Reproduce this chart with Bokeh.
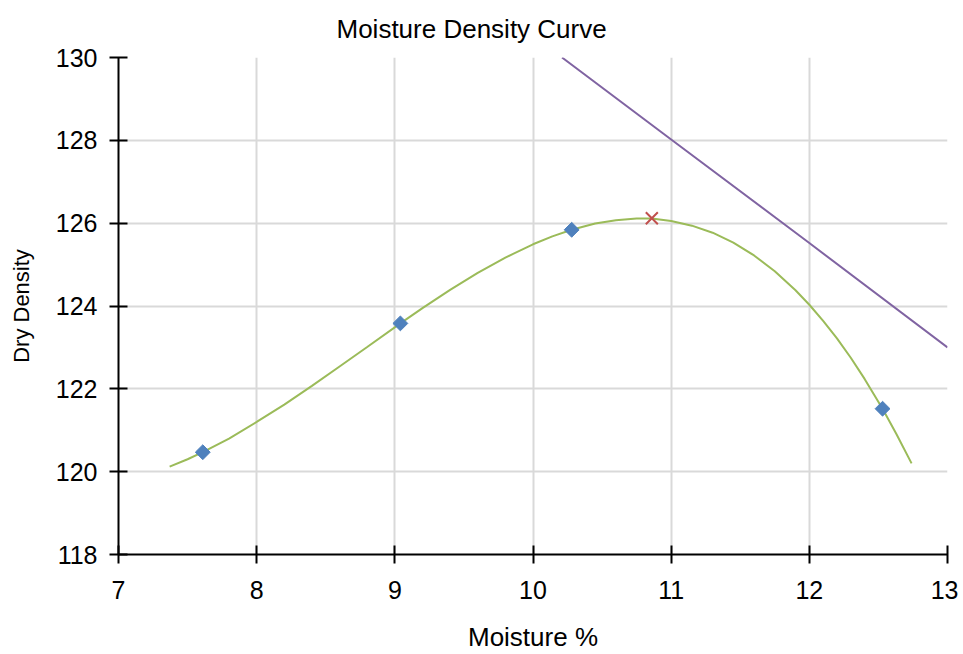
import math
from bokeh.plotting import figure
from bokeh.models import Range1d, FixedTicker
from bokeh.embed import file_html
from bokeh.resources import INLINE

# measured points
moisture = [7.61, 9.04, 10.28, 12.53]
density = [120.47, 123.58, 125.84, 121.52]

# optimum
opt_moisture = [10.86]
opt_density = [126.12]

# fitted curve
curve_x = [7.37, 7.5, 7.61, 7.8, 8.0, 8.2, 8.4, 8.6, 8.8, 9.04, 9.2, 9.4, 9.6, 9.8,
           10.0, 10.14, 10.28, 10.45, 10.6, 10.75, 10.86, 11.0, 11.15, 11.3, 11.45,
           11.6, 11.75, 11.9, 12.0, 12.1, 12.2, 12.3, 12.4, 12.53, 12.63, 12.74]
curve_y = [120.12, 120.30, 120.47, 120.80, 121.20, 121.62, 122.07, 122.54, 123.01,
           123.58, 123.95, 124.39, 124.80, 125.17, 125.49, 125.68, 125.84, 125.99,
           126.07, 126.11, 126.11, 126.05, 125.94, 125.77, 125.53, 125.22, 124.84,
           124.38, 124.03, 123.64, 123.22, 122.75, 122.24, 121.52, 120.91, 120.20]

# zero air voids line
zav_x = [10.21, 11.0, 12.0, 13.0]
zav_y = [130.0, 128.02, 125.52, 123.0]

x_ticks = [7, 8, 9, 10, 11, 12, 13]
y_ticks = [118, 120, 122, 124, 126, 128, 130]

title_text = "Moisture Density Curve"
x_label = "Moisture %"
y_label = "Dry Density"

FONT = "Liberation Sans"

p = figure(width=958, height=654, output_backend="svg", toolbar_location=None,
           x_range=Range1d(7, 13), y_range=Range1d(118, 130),
           min_border_left=118, min_border_right=11, min_border_top=57, min_border_bottom=98,
           title=title_text)
p.outline_line_color = None
p.background_fill_color = "white"
p.border_fill_color = "white"

p.title.align = "left"
p.title.offset = 218
p.title.standoff = 24
p.title.vertical_align = "top"
p.title.text_font = FONT
p.title.text_font_size = "26px"
p.title.text_font_style = "normal"
p.title.text_color = "black"

for ax in (p.xaxis[0], p.yaxis[0]):
    ax.axis_line_width = 2
    ax.axis_line_color = "black"
    ax.major_tick_line_width = 2
    ax.major_tick_line_color = "black"
    ax.minor_tick_line_color = None
    ax.major_tick_in = 9
    ax.major_tick_out = 9
    ax.major_label_text_font = FONT
    ax.major_label_text_font_size = "25px"
    ax.major_label_text_color = "black"
    ax.axis_label_text_font = FONT
    ax.axis_label_text_font_style = "normal"
    ax.axis_label_text_color = "black"

p.xaxis.ticker = FixedTicker(ticks=x_ticks)
p.yaxis.ticker = FixedTicker(ticks=y_ticks)
p.xaxis.axis_label = x_label
p.yaxis.axis_label = y_label
p.xaxis.axis_label_text_font_size = "26px"
p.yaxis.axis_label_text_font_size = "22px"
p.xaxis.major_label_standoff = 17
p.yaxis.major_label_standoff = 12
p.xaxis.axis_label_standoff = 20
p.yaxis.axis_label_standoff = 19

p.grid.grid_line_color = "#d9d9d9"
p.grid.grid_line_width = 2

p.line(zav_x, zav_y, line_color="#8064a2", line_width=2)
p.line(curve_x, curve_y, line_color="#9bbb59", line_width=2)
p.scatter(moisture, density, marker="square", size=10.5, angle=math.pi / 4,
          fill_color="#4f81bd", line_color="#4f81bd", line_width=1)
p.scatter(opt_moisture, opt_density, marker="x", size=17, line_color="#c0504d",
          line_width=2)

open("out.html", "w").write(file_html(p, INLINE))
